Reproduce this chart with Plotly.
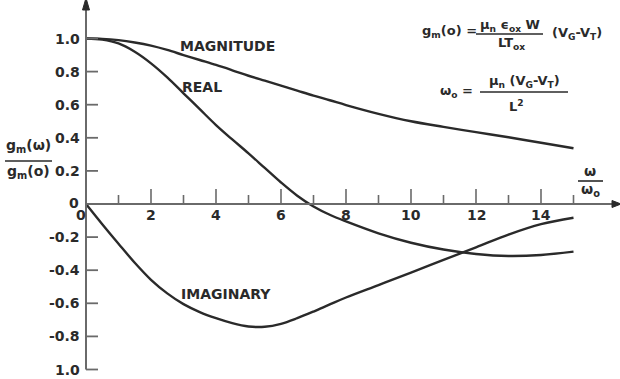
import plotly.graph_objects as go

# Normalised frequency w/w0
omega = [0, 0.5, 1, 1.5, 2, 2.5, 3, 3.5, 4, 4.5, 5, 5.5, 6, 6.5, 7, 7.5, 8, 9, 10, 11, 12, 13, 14, 15]

# gm(w)/gm(0) components
magnitude = [1.0, 0.998, 0.99, 0.976, 0.957, 0.931, 0.90, 0.87, 0.84, 0.808, 0.775, 0.745, 0.715,
             0.685, 0.655, 0.627, 0.598, 0.545, 0.50, 0.466, 0.434, 0.403, 0.37, 0.337]
real_part = [1.0, 0.993, 0.97, 0.92, 0.85, 0.765, 0.669, 0.573, 0.477, 0.39, 0.306, 0.218, 0.13,
             0.05, -0.015, -0.065, -0.105, -0.177, -0.234, -0.275, -0.302, -0.314, -0.308, -0.288]
imag_part = [0.0, -0.122, -0.24, -0.355, -0.458, -0.54, -0.605, -0.653, -0.69, -0.72, -0.74,
             -0.742, -0.724, -0.69, -0.65, -0.607, -0.565, -0.49, -0.415, -0.338, -0.262, -0.185,
             -0.122, -0.083]

x_major = [2, 4, 6, 8, 10, 12, 14]
x_minor = [1, 3, 5, 7, 9, 11, 13, 15]
y_ticks = [1.0, 0.8, 0.6, 0.4, 0.2, -0.2, -0.4, -0.6, -0.8, -1.0]
y_tick_labels = ["1.0", "0.8", "0.6", "0.4", "0.2", "-0.2", "-0.4", "-0.6", "-0.8", "1.0"]

W, H = 620, 379
X0_PX, X_SCALE = 86.0, 32.5      # pixel of w=0, pixels per unit
Y0_PX, Y_SCALE = 204.0, 165.5    # pixel of g=0, pixels per unit

x_range = [-X0_PX / X_SCALE, (W - X0_PX) / X_SCALE]
y_range = [-(H - Y0_PX) / Y_SCALE, Y0_PX / Y_SCALE]


def dx(px):
    return px / X_SCALE


def dy(px):
    return px / Y_SCALE


def paper(px, py):
    return px / W, 1 - py / H


INK = "#2a2a2a"
AXIS = "#6a6a6a"
FONT = "DejaVu Sans"

fig = go.Figure()
for ys in (magnitude, real_part, imag_part):
    fig.add_trace(go.Scatter(x=omega, y=ys, mode="lines",
                             line=dict(color=INK, width=2.4, shape="spline", smoothing=1.0),
                             hoverinfo="skip", showlegend=False))

shapes = []
y_top = dy(Y0_PX - 10)
x_end = dx(612 - X0_PX)
# vertical axis with arrow
shapes.append(dict(type="line", x0=0, x1=0, y0=-1.0, y1=y_top, line=dict(color=AXIS, width=2)))
shapes.append(dict(type="path",
                   path=f"M {-dx(3.5)} {y_top} L {dx(3.5)} {y_top} L 0 {y_top + dy(12)} Z",
                   fillcolor=INK, line=dict(color=INK, width=1)))
# horizontal axis with arrow
shapes.append(dict(type="line", x0=0, x1=x_end, y0=0, y1=0, line=dict(color=AXIS, width=2)))
shapes.append(dict(type="path",
                   path=f"M {x_end} {dy(3.5)} L {x_end} {-dy(3.5)} L {x_end + dx(9)} 0 Z",
                   fillcolor=INK, line=dict(color=INK, width=1)))
# ticks
for t in x_major:
    shapes.append(dict(type="line", x0=t, x1=t, y0=0, y1=dy(15), line=dict(color=AXIS, width=1.6)))
for t in x_minor:
    shapes.append(dict(type="line", x0=t, x1=t, y0=0, y1=dy(9), line=dict(color=AXIS, width=1.6)))
for t in y_ticks:
    shapes.append(dict(type="line", x0=0, x1=dx(12), y0=t, y1=t, line=dict(color=AXIS, width=1.8)))

annotations = []


def text(s, x, y, size=14, xanchor="center", ref="data"):
    s = f"<b>{s}</b>"
    if ref == "paper":
        x, y = paper(x, y)
        xr, yr = "paper", "paper"
    else:
        xr, yr = "x", "y"
    annotations.append(dict(text=s, x=x, y=y, xref=xr, yref=yr, showarrow=False,
                            xanchor=xanchor, yanchor="middle",
                            font=dict(family=FONT, size=size, color=INK)))


for t in x_major:
    text(str(t), t, -dy(10.5))
for t, lab in zip(y_ticks, y_tick_labels):
    text(lab, -dx(4), t, xanchor="right")
text("0", -dx(12), dy(1.5))
text("0", -dx(5), -dy(10.5))

# curve names
text("MAGNITUDE", 227, 46, ref="paper")
text("REAL", 202, 87, ref="paper")
text("IMAGINARY", 226, 294, ref="paper")

# axis titles written as fractions
text("g<sub>m</sub>(ω)", 28, 146, ref="paper")
text("g<sub>m</sub>(o)", 28, 172, ref="paper")
text("ω", 590, 171, ref="paper")
text("ω<sub>o</sub>", 590, 190, ref="paper")

# device equations
text("g<sub>m</sub>(o) =", 449, 31, size=13, ref="paper")
text("μ<sub>n</sub> ϵ<sub>ox</sub> W", 510, 25, size=13, ref="paper")
text("LT<sub>ox</sub>", 511, 43, size=13, ref="paper")
text("(V<sub>G</sub>-V<sub>T</sub>)", 577, 33, size=13, ref="paper")
text("ω<sub>o</sub> =", 456, 92, size=13, ref="paper")
text("μ<sub>n</sub> (V<sub>G</sub>-V<sub>T</sub>)", 524, 82, size=13, ref="paper")
text("L<sup>2</sup>", 516, 106, size=13, ref="paper")

for (xa, xb, yb) in [(5, 52, 161), (578, 603, 181), (476, 543, 34), (480, 568, 92)]:
    pa, pb = paper(xa, yb), paper(xb, yb)
    shapes.append(dict(type="line", xref="paper", yref="paper", x0=pa[0], x1=pb[0],
                       y0=pa[1], y1=pb[1], line=dict(color=INK, width=1.6)))

fig.update_layout(
    width=W, height=H,
    margin=dict(l=0, r=0, t=0, b=0),
    paper_bgcolor="white", plot_bgcolor="white",
    xaxis=dict(range=x_range, visible=False, fixedrange=True),
    yaxis=dict(range=y_range, visible=False, fixedrange=True),
    shapes=shapes, annotations=annotations,
    showlegend=False,
)

fig.write_html("out.html", config={"displayModeBar": False})
